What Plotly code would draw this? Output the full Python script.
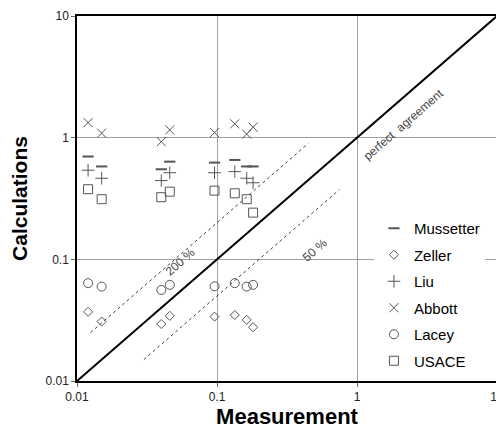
import plotly.graph_objects as go

# Measurement (x) values per sample
meas = [0.012, 0.015, 0.040, 0.046, 0.096, 0.134, 0.163, 0.181]

mussetter = [0.70, 0.58, 0.55, 0.635, 0.624, 0.656, 0.58, 0.58]
zeller = [0.037, 0.0308, 0.0294, 0.0343, 0.0338, 0.0349, 0.0318, 0.0277]
liu = [0.54, 0.464, 0.444, 0.515, 0.515, 0.526, 0.464, 0.426]
abbott = [1.33, 1.09, 0.927, 1.157, 1.10, 1.30, 1.07, 1.22]
lacey = [0.0637, 0.0597, 0.056, 0.0617, 0.060, 0.0637, 0.0597, 0.0617]
usace = [0.377, 0.312, 0.324, 0.36, 0.367, 0.349, 0.312, 0.242]

perfect_x = [0.01, 10]
line200_x = [0.0125, 0.45]
line50_x = [0.03, 0.75]

tick_vals = [0.01, 0.1, 1, 10]
tick_text = ["0.01", "0.1", "1", "10"]

mcol = "#555555"
fig = go.Figure()

fig.add_trace(go.Scatter(x=perfect_x, y=perfect_x, mode="lines",
                         line=dict(color="black", width=2), showlegend=False))
fig.add_trace(go.Scatter(x=line200_x, y=[2 * v for v in line200_x], mode="lines",
                         line=dict(color="#444444", width=1, dash="dot"), showlegend=False))
fig.add_trace(go.Scatter(x=line50_x, y=[0.5 * v for v in line50_x], mode="lines",
                         line=dict(color="#444444", width=1, dash="dot"), showlegend=False))

series = [
    ("Mussetter", mussetter, "line-ew", 8, 2),
    ("Zeller", zeller, "diamond-open", 7, 1),
    ("Liu", liu, "cross-thin", 9, 1),
    ("Abbott", abbott, "x-thin", 9, 1),
    ("Lacey", lacey, "circle-open", 9, 1),
    ("USACE", usace, "square-open", 9, 1),
]
for name, vals, sym, size, lw in series:
    fig.add_trace(go.Scatter(x=meas, y=vals, mode="markers", name=name, legendgroup=name,
                             marker=dict(symbol=sym, size=size, color=mcol,
                                         line=dict(color=mcol, width=lw))))

ann_font = dict(family="Liberation Sans, Arial", size=12, color="#444444")
fig.add_annotation(x=0.329, y=0.104, xref="x", yref="y", text="perfect  agreement",
                   showarrow=False, textangle=-41, font=ann_font)
fig.add_annotation(x=-1.264, y=-1.021, xref="x", yref="y", text="200 %",
                   showarrow=False, textangle=-41, font=ann_font)
fig.add_annotation(x=-0.30, y=-0.923, xref="x", yref="y", text="50 %",
                   showarrow=False, textangle=-41, font=ann_font)

axis_common = dict(type="log", tickvals=tick_vals, ticktext=tick_text,
                   showgrid=True, gridcolor="#a0a0a0", gridwidth=1,
                   showline=True, linecolor="black", linewidth=1.5, mirror=True,
                   ticks="outside", ticklen=4, tickcolor="#666666",
                   tickfont=dict(family="Liberation Sans, Arial", size=12, color="#222222"),
                   zeroline=False, automargin=False)

fig.update_xaxes(range=[-2, 1], **axis_common,
                 title=dict(text="<b>Measurement</b>", standoff=0,
                            font=dict(family="Liberation Sans, Arial", size=22, color="black")))
fig.update_yaxes(range=[-2, 1], **axis_common,
                 title=dict(text="<b>Calculations</b>", standoff=14,
                            font=dict(family="Liberation Sans, Arial", size=21, color="black")))

# page body adds ~8px offset; margins compensate so plot spans x 77-497, y 16-381
fig.update_layout(
    width=504, height=429,
    margin=dict(l=69, r=15, t=8, b=56),
    paper_bgcolor="white", plot_bgcolor="white",
    legend=dict(x=0.707, y=0.463, xanchor="left", yanchor="top",
                bgcolor="white", borderwidth=0, itemwidth=30,
                font=dict(family="Liberation Sans, Arial", size=15, color="black"),
                tracegroupgap=4),
)

fig.write_html("out.html")
